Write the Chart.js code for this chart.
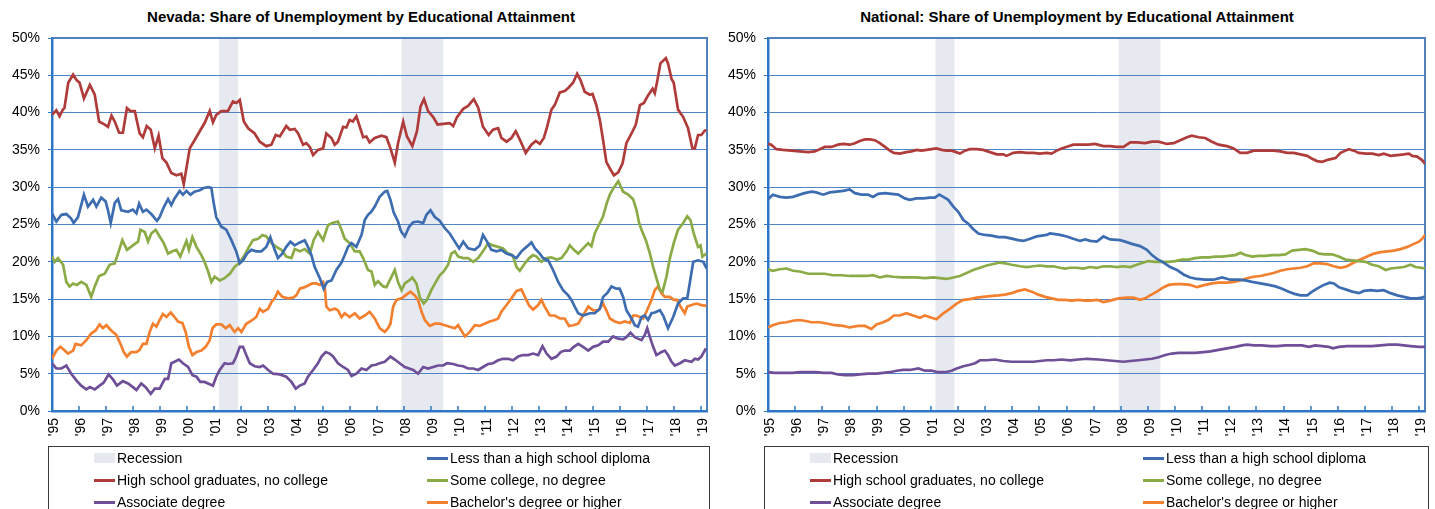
<!DOCTYPE html>
<html><head><meta charset="utf-8">
<script src="https://cdn.jsdelivr.net/npm/chart.js@4.4.1/dist/chart.umd.min.js"></script>
<style>
html,body{margin:0;padding:0;background:#fff;}
body{width:1435px;height:509px;overflow:hidden;position:relative;font-family:"Liberation Sans",Arial,sans-serif;color:#000;}
canvas{position:absolute;top:0;}
.title{position:absolute;top:8px;height:17px;line-height:17px;font-size:15px;font-weight:bold;text-align:center;white-space:nowrap;}
.legend{position:absolute;top:446px;height:80px;border:1px solid #3a3a3a;box-sizing:border-box;}
.item{position:absolute;height:20px;line-height:20px;font-size:14px;white-space:nowrap;}
.sw{position:absolute;}
</style>
</head><body>
<div class="title" style="left:0;width:722px;">Nevada: Share of Unemployment by Educational Attainment</div>
<div class="title" style="left:719px;width:716px;">National: Share of Unemployment by Educational Attainment</div>
<canvas id="nv" width="717" height="509" style="left:0;"></canvas>
<canvas id="us" width="719" height="509" style="left:716px;"></canvas>
<div class="legend" id="legNv" style="left:48px;width:662px;"></div>
<div class="legend" id="legUs" style="left:764px;width:665px;"></div>
<script>
// ---------- labels ----------
const seriesNames = ["Less than a high school diploma","High school graduates, no college","Some college, no degree","Associate degree","Bachelor's degree or higher"];
const recessionLabel = "Recession";
const yearTicks = [1995,1996,1997,1998,1999,2000,2001,2002,2003,2004,2005,2006,2007,2008,2009,2010,2011,2012,2013,2014,2015,2016,2017,2018,2019];
const yearLabels = ["'95","'96","'97","'98","'99","'00","'01","'02","'03","'04","'05","'06","'07","'08","'09","'10","'11","'12","'13","'14","'15","'16","'17","'18","'19"];
const recessions = [[2001.17,2001.87],[2007.92,2009.46]];

// ---------- Nevada ----------
const nvLess = [[1995.00,26.5],[1995.16,25.4],[1995.35,26.3],[1995.53,26.4],[1995.71,25.8],[1995.80,25.2],[1995.96,26.0],[1996.08,27.6],[1996.18,29.0],[1996.33,27.4],[1996.52,28.3],[1996.64,27.4],[1996.82,28.6],[1996.98,28.1],[1997.07,26.9],[1997.17,25.2],[1997.32,27.9],[1997.44,28.4],[1997.56,26.9],[1997.81,26.7],[1997.99,27.0],[1998.12,26.5],[1998.22,27.8],[1998.36,26.7],[1998.49,27.0],[1998.67,26.4],[1998.88,25.5],[1998.98,26.0],[1999.13,27.3],[1999.29,28.4],[1999.41,27.6],[1999.53,28.5],[1999.72,29.5],[1999.84,29.0],[1999.97,29.5],[2000.12,29.0],[2000.27,29.4],[2000.46,29.6],[2000.61,29.9],[2000.77,30.0],[2000.89,29.9],[2000.98,27.8],[2001.07,26.0],[2001.26,24.7],[2001.44,24.3],[2001.63,22.9],[2001.81,21.4],[2001.94,19.8],[2002.06,20.2],[2002.21,21.1],[2002.37,21.6],[2002.55,21.4],[2002.74,21.4],[2002.92,22.0],[2003.07,23.3],[2003.23,21.6],[2003.35,20.5],[2003.51,21.1],[2003.66,22.0],[2003.81,22.7],[2003.97,22.2],[2004.16,22.6],[2004.34,22.9],[2004.46,22.0],[2004.59,20.9],[2004.71,19.3],[2004.90,17.8],[2005.04,16.4],[2005.17,17.3],[2005.33,17.5],[2005.51,18.9],[2005.70,19.9],[2005.82,20.9],[2005.94,22.0],[2006.07,22.5],[2006.25,22.0],[2006.44,23.6],[2006.56,25.6],[2006.68,26.3],[2006.80,26.7],[2006.93,27.4],[2007.11,28.7],[2007.30,29.4],[2007.39,29.5],[2007.51,28.3],[2007.63,26.6],[2007.79,25.4],[2007.88,24.3],[2007.92,24.0],[2008.04,23.4],[2008.20,24.7],[2008.35,25.3],[2008.53,25.4],[2008.72,25.2],[2008.84,26.3],[2008.99,26.9],[2009.15,26.0],[2009.33,25.5],[2009.52,24.5],[2009.70,23.8],[2009.89,22.7],[2010.05,21.8],[2010.20,22.7],[2010.38,21.8],[2010.63,21.6],[2010.81,22.2],[2010.93,23.6],[2011.08,22.7],[2011.24,21.6],[2011.43,21.4],[2011.61,21.6],[2011.80,21.1],[2011.98,20.9],[2012.17,20.5],[2012.35,21.4],[2012.54,22.0],[2012.72,22.6],[2012.85,21.8],[2013.03,21.1],[2013.15,20.5],[2013.34,20.2],[2013.52,18.9],[2013.71,17.3],[2013.89,16.2],[2014.08,15.5],[2014.20,14.9],[2014.32,14.0],[2014.45,13.1],[2014.63,12.8],[2014.88,13.1],[2015.06,13.1],[2015.25,13.7],[2015.37,15.3],[2015.52,15.8],[2015.68,16.7],[2015.86,16.4],[2015.98,16.4],[2016.11,15.3],[2016.23,13.5],[2016.42,12.4],[2016.54,11.5],[2016.66,11.3],[2016.79,12.6],[2016.91,12.8],[2017.03,12.2],[2017.16,13.1],[2017.28,13.2],[2017.47,13.5],[2017.59,12.8],[2017.77,11.1],[2017.96,12.6],[2018.14,14.4],[2018.33,15.1],[2018.48,15.1],[2018.58,17.3],[2018.70,20.0],[2018.88,20.2],[2019.07,20.0],[2019.20,19.1]];
const nvHS = [[1995.00,39.7],[1995.16,40.3],[1995.28,39.5],[1995.40,40.4],[1995.46,40.6],[1995.60,44.0],[1995.78,45.1],[1995.90,44.4],[1996.02,44.0],[1996.18,41.9],[1996.40,43.7],[1996.58,42.4],[1996.74,38.8],[1996.95,38.4],[1997.07,38.1],[1997.20,39.6],[1997.32,38.8],[1997.48,37.3],[1997.62,37.3],[1997.77,40.6],[1997.90,40.2],[1998.06,40.2],[1998.24,37.2],[1998.36,36.7],[1998.50,38.2],[1998.65,37.7],[1998.80,35.2],[1998.94,36.9],[1999.08,33.9],[1999.23,33.3],[1999.41,31.9],[1999.60,31.6],[1999.78,31.8],[1999.87,30.4],[2000.09,35.2],[2000.27,36.3],[2000.46,37.5],[2000.64,38.6],[2000.83,40.2],[2000.95,38.7],[2001.07,39.7],[2001.26,40.2],[2001.50,40.2],[2001.69,41.5],[2001.82,41.3],[2001.94,41.7],[2002.09,38.8],[2002.25,37.9],[2002.49,37.2],[2002.68,36.1],[2002.92,35.5],[2003.11,35.7],[2003.27,37.0],[2003.42,36.8],[2003.66,38.2],[2003.79,37.7],[2003.97,37.8],[2004.10,37.2],[2004.28,35.7],[2004.40,35.9],[2004.53,35.4],[2004.65,34.3],[2004.83,35.0],[2005.02,35.2],[2005.14,37.2],[2005.33,36.6],[2005.45,35.7],[2005.57,36.1],[2005.76,38.1],[2005.88,38.0],[2006.00,39.0],[2006.12,38.8],[2006.25,39.5],[2006.35,38.4],[2006.50,36.7],[2006.62,36.8],[2006.74,36.0],[2006.93,36.6],[2007.18,36.9],[2007.36,36.7],[2007.51,35.2],[2007.67,33.3],[2007.79,35.9],[2007.98,38.8],[2008.12,36.8],[2008.32,35.5],[2008.49,37.5],[2008.62,40.8],[2008.75,41.8],[2008.90,40.2],[2009.09,39.4],[2009.25,38.4],[2009.46,38.5],[2009.70,38.6],[2009.83,38.2],[2009.97,39.4],[2010.20,40.5],[2010.38,40.9],[2010.59,41.8],[2010.75,40.7],[2010.93,38.1],[2011.14,37.0],[2011.30,37.7],[2011.49,37.9],[2011.61,36.6],[2011.80,36.1],[2011.98,36.6],[2012.14,37.5],[2012.29,36.4],[2012.51,34.6],[2012.72,35.7],[2012.88,36.2],[2013.03,35.8],[2013.18,36.6],[2013.30,38.1],[2013.46,40.4],[2013.58,41.0],[2013.77,42.7],[2013.95,42.9],[2014.08,43.3],[2014.26,44.0],[2014.41,45.2],[2014.53,44.4],[2014.69,42.8],[2014.88,42.4],[2014.98,42.5],[2015.12,41.0],[2015.25,39.0],[2015.37,36.3],[2015.49,33.4],[2015.62,32.5],[2015.77,31.6],[2015.93,32.0],[2016.09,33.2],[2016.23,35.9],[2016.42,37.2],[2016.58,38.4],[2016.73,41.0],[2016.88,41.3],[2017.03,42.3],[2017.20,43.2],[2017.28,42.6],[2017.37,44.2],[2017.49,46.6],[2017.69,47.3],[2017.77,46.6],[2017.90,44.5],[2017.98,44.0],[2018.14,40.4],[2018.33,39.4],[2018.51,37.9],[2018.67,35.2],[2018.76,35.2],[2018.88,37.0],[2019.00,37.0],[2019.13,37.6],[2019.20,37.6]];
const nvSome = [[1995.00,20.7],[1995.10,20.0],[1995.22,20.5],[1995.41,19.6],[1995.53,17.3],[1995.65,16.7],[1995.78,17.1],[1995.92,16.9],[1996.08,17.3],[1996.27,16.9],[1996.45,15.3],[1996.58,16.7],[1996.74,18.1],[1996.95,18.4],[1997.13,19.6],[1997.32,19.8],[1997.44,21.1],[1997.60,22.9],[1997.77,21.6],[1997.99,22.2],[1998.18,22.7],[1998.27,24.3],[1998.43,24.0],[1998.55,22.7],[1998.67,23.8],[1998.83,24.3],[1998.98,23.4],[1999.13,22.5],[1999.29,21.1],[1999.45,21.4],[1999.60,21.6],[1999.74,20.7],[1999.97,22.8],[2000.06,21.6],[2000.19,23.3],[2000.34,22.0],[2000.52,20.9],[2000.64,20.0],[2000.77,18.7],[2000.89,17.3],[2001.01,18.0],[2001.20,17.5],[2001.38,17.8],[2001.57,18.4],[2001.75,19.3],[2001.94,19.9],[2002.12,20.9],[2002.28,22.0],[2002.43,22.9],[2002.62,23.1],[2002.78,23.6],[2002.92,23.4],[2003.11,22.5],[2003.29,22.0],[2003.48,21.6],[2003.66,20.7],[2003.85,20.5],[2003.97,21.7],[2004.16,21.4],[2004.34,21.7],[2004.53,21.1],[2004.67,22.9],[2004.83,24.0],[2005.02,22.9],[2005.20,24.9],[2005.36,25.2],[2005.57,25.4],[2005.70,24.3],[2005.82,23.1],[2006.00,22.5],[2006.19,21.4],[2006.37,21.4],[2006.50,20.5],[2006.68,18.9],[2006.81,18.7],[2006.93,16.9],[2007.05,17.4],[2007.24,16.7],[2007.36,16.6],[2007.55,18.0],[2007.67,18.9],[2007.79,17.3],[2007.92,16.2],[2008.04,17.1],[2008.20,17.5],[2008.32,17.9],[2008.47,17.1],[2008.59,15.3],[2008.74,14.4],[2008.86,14.9],[2009.02,16.2],[2009.19,17.3],[2009.33,18.2],[2009.48,18.7],[2009.64,19.6],[2009.76,21.1],[2009.89,21.4],[2010.01,20.7],[2010.20,20.5],[2010.38,20.5],[2010.57,20.0],[2010.75,20.5],[2010.93,21.4],[2011.12,22.5],[2011.30,22.2],[2011.49,22.0],[2011.67,21.8],[2011.86,21.1],[2012.02,20.9],[2012.17,19.3],[2012.29,18.8],[2012.48,19.8],[2012.64,20.5],[2012.78,20.9],[2012.91,20.7],[2013.09,20.0],[2013.28,20.5],[2013.46,20.6],[2013.65,20.3],[2013.83,20.5],[2014.02,21.4],[2014.14,22.2],[2014.29,21.6],[2014.45,21.1],[2014.63,21.8],[2014.82,22.5],[2014.94,22.1],[2015.06,23.8],[2015.25,25.2],[2015.37,26.1],[2015.50,27.8],[2015.62,29.0],[2015.74,29.8],[2015.93,30.8],[2016.11,29.4],[2016.30,29.0],[2016.48,28.4],[2016.60,27.0],[2016.70,25.2],[2016.79,24.3],[2016.95,22.9],[2017.10,21.1],[2017.22,19.3],[2017.34,17.8],[2017.47,16.2],[2017.57,16.0],[2017.71,18.0],[2017.84,20.5],[2017.98,22.5],[2018.14,24.3],[2018.33,25.2],[2018.48,26.1],[2018.60,25.6],[2018.72,23.8],[2018.88,22.0],[2018.97,22.2],[2019.04,20.7],[2019.19,21.1]];
const nvAssoc = [[1995.00,6.4],[1995.16,5.7],[1995.35,5.7],[1995.53,6.1],[1995.71,5.0],[1995.90,4.1],[1996.08,3.4],[1996.27,2.9],[1996.40,3.2],[1996.58,2.9],[1996.76,3.4],[1996.91,3.8],[1997.09,4.9],[1997.26,4.2],[1997.40,3.4],[1997.62,4.0],[1997.81,3.7],[1997.99,3.2],[1998.12,2.8],[1998.30,3.7],[1998.46,3.2],[1998.65,2.3],[1998.80,3.0],[1998.98,3.0],[1999.17,4.3],[1999.29,4.3],[1999.41,6.4],[1999.53,6.6],[1999.69,6.9],[1999.84,6.4],[2000.03,5.9],[2000.19,4.8],[2000.34,4.6],[2000.48,3.9],[2000.64,3.9],[2000.83,3.6],[2000.95,3.4],[2001.07,4.6],[2001.20,5.5],[2001.38,6.4],[2001.50,6.3],[2001.69,6.4],[2001.81,7.3],[2001.94,8.6],[2002.06,8.6],[2002.18,7.5],[2002.31,6.4],[2002.49,6.0],[2002.68,5.9],[2002.80,6.1],[2002.99,5.5],[2003.17,5.0],[2003.42,4.9],[2003.66,4.6],[2003.85,3.9],[2004.01,3.0],[2004.16,3.4],[2004.34,3.7],[2004.46,4.6],[2004.65,5.5],[2004.83,6.4],[2004.96,7.3],[2005.12,7.9],[2005.26,7.7],[2005.39,7.3],[2005.57,6.4],[2005.76,5.9],[2005.94,5.5],[2006.07,4.7],[2006.25,5.0],[2006.44,5.7],[2006.62,5.5],[2006.81,6.1],[2006.97,6.2],[2007.11,6.4],[2007.30,6.6],[2007.42,7.0],[2007.51,7.3],[2007.67,6.9],[2007.85,6.4],[2008.04,5.9],[2008.20,5.7],[2008.35,5.5],[2008.53,5.0],[2008.72,5.9],[2008.90,5.7],[2009.09,5.9],[2009.27,6.1],[2009.46,6.1],[2009.60,6.4],[2009.83,6.3],[2010.01,6.1],[2010.20,6.0],[2010.38,5.7],[2010.57,5.7],[2010.75,5.5],[2010.93,5.9],[2011.12,6.3],[2011.30,6.4],[2011.49,6.8],[2011.67,7.0],[2011.86,7.0],[2012.04,6.8],[2012.23,7.3],[2012.41,7.5],[2012.60,7.5],[2012.78,7.7],[2012.97,7.5],[2013.13,8.7],[2013.28,7.7],[2013.46,7.0],[2013.65,7.3],[2013.80,7.9],[2013.95,8.1],[2014.14,8.1],[2014.29,8.6],[2014.45,9.0],[2014.63,8.6],[2014.82,8.1],[2015.00,8.6],[2015.19,8.8],[2015.37,9.3],[2015.56,9.3],[2015.74,10.0],[2015.93,9.7],[2016.11,9.6],[2016.23,9.9],[2016.38,10.5],[2016.54,9.9],[2016.66,9.7],[2016.79,9.5],[2016.91,10.2],[2017.00,11.1],[2017.10,9.9],[2017.22,8.6],[2017.34,7.5],[2017.53,7.9],[2017.65,8.1],[2017.77,7.5],[2017.90,6.6],[2018.02,6.1],[2018.21,6.4],[2018.39,6.8],[2018.51,6.7],[2018.64,6.6],[2018.76,7.0],[2018.88,6.9],[2019.00,7.3],[2019.17,8.4]];
const nvBach = [[1995.00,7.0],[1995.16,8.1],[1995.31,8.6],[1995.47,8.1],[1995.59,7.7],[1995.78,8.1],[1995.87,9.0],[1996.08,8.8],[1996.27,9.5],[1996.45,10.4],[1996.61,10.8],[1996.76,11.6],[1996.88,11.1],[1997.01,11.5],[1997.19,10.8],[1997.38,10.2],[1997.53,9.0],[1997.65,7.9],[1997.77,7.3],[1997.93,7.9],[1998.12,7.9],[1998.24,8.2],[1998.36,9.0],[1998.49,9.0],[1998.61,10.6],[1998.73,11.7],[1998.86,11.3],[1998.98,12.2],[1999.10,13.0],[1999.23,12.6],[1999.39,13.2],[1999.53,12.6],[1999.66,12.0],[1999.82,11.8],[1999.94,10.6],[2000.06,8.6],[2000.19,7.5],[2000.34,7.9],[2000.52,8.1],[2000.68,8.6],[2000.83,9.5],[2000.93,11.1],[2001.07,11.6],[2001.26,11.6],[2001.42,11.1],[2001.57,11.5],[2001.75,10.6],[2001.88,11.1],[2002.00,10.6],[2002.18,11.7],[2002.37,12.1],[2002.55,12.6],[2002.68,13.7],[2002.80,13.3],[2002.99,13.7],[2003.11,14.6],[2003.23,15.1],[2003.35,16.0],[2003.51,15.3],[2003.72,15.1],[2003.91,15.2],[2004.03,15.5],[2004.16,16.4],[2004.34,16.6],[2004.50,16.9],[2004.62,17.1],[2004.77,17.1],[2004.90,16.9],[2005.02,17.3],[2005.08,16.7],[2005.14,14.0],[2005.26,13.5],[2005.45,13.7],[2005.57,13.5],[2005.70,12.6],[2005.82,13.1],[2006.00,12.6],[2006.19,13.1],[2006.37,12.4],[2006.56,12.8],[2006.74,13.3],[2006.93,12.4],[2007.11,11.1],[2007.30,10.6],[2007.42,11.1],[2007.51,11.7],[2007.61,14.0],[2007.73,14.9],[2007.92,15.1],[2008.10,15.6],[2008.25,16.0],[2008.41,15.5],[2008.53,14.9],[2008.66,13.3],[2008.78,12.2],[2008.96,11.4],[2009.15,11.7],[2009.33,11.7],[2009.52,11.5],[2009.70,11.3],[2009.89,11.1],[2010.01,11.5],[2010.13,10.8],[2010.26,10.0],[2010.44,10.6],[2010.63,11.5],[2010.81,11.4],[2010.99,11.7],[2011.18,12.0],[2011.37,12.2],[2011.49,12.4],[2011.61,13.3],[2011.80,14.2],[2011.98,15.1],[2012.17,16.1],[2012.35,16.3],[2012.48,15.3],[2012.64,14.1],[2012.78,13.6],[2012.97,14.2],[2013.09,14.9],[2013.21,14.0],[2013.40,12.8],[2013.58,12.8],[2013.77,12.4],[2013.95,12.4],[2014.11,11.4],[2014.26,11.5],[2014.45,11.7],[2014.63,12.8],[2014.82,14.0],[2015.00,13.5],[2015.19,13.5],[2015.37,14.4],[2015.49,13.5],[2015.62,12.4],[2015.80,12.0],[2015.99,11.8],[2016.17,12.0],[2016.36,11.8],[2016.48,12.8],[2016.60,12.8],[2016.73,12.6],[2016.85,12.4],[2016.97,13.3],[2017.16,14.9],[2017.28,16.2],[2017.40,16.7],[2017.53,15.8],[2017.65,15.3],[2017.84,15.3],[2017.98,14.9],[2018.10,14.9],[2018.23,14.0],[2018.39,13.1],[2018.48,14.0],[2018.64,14.2],[2018.82,14.4],[2019.00,14.2],[2019.19,14.1]];

// ---------- National ----------
const usLess = [[1995.00,28.4],[1995.18,29.0],[1995.43,28.7],[1995.68,28.6],[1995.92,28.7],[1996.17,29.0],[1996.35,29.2],[1996.60,29.4],[1996.78,29.3],[1997.03,29.0],[1997.28,29.3],[1997.52,29.4],[1997.77,29.5],[1998.01,29.7],[1998.20,29.2],[1998.44,29.0],[1998.69,29.0],[1998.87,28.7],[1999.06,29.1],[1999.31,29.2],[1999.55,29.1],[1999.80,29.0],[2000.04,28.5],[2000.23,28.3],[2000.47,28.5],[2000.72,28.5],[2000.97,28.6],[2001.15,28.6],[2001.31,29.0],[2001.46,28.7],[2001.64,28.3],[2001.83,27.4],[2002.01,26.7],[2002.20,25.6],[2002.38,25.1],[2002.56,24.4],[2002.75,23.8],[2002.99,23.6],[2003.24,23.5],[2003.49,23.3],[2003.73,23.3],[2003.98,23.1],[2004.22,22.9],[2004.41,22.8],[2004.66,23.1],[2004.90,23.4],[2005.09,23.5],[2005.27,23.6],[2005.39,23.8],[2005.58,23.7],[2005.76,23.6],[2006.01,23.4],[2006.25,23.1],[2006.50,22.8],[2006.69,23.0],[2006.87,22.8],[2007.12,22.7],[2007.36,23.4],[2007.61,23.0],[2007.98,22.9],[2008.16,22.7],[2008.41,22.4],[2008.71,22.1],[2008.96,21.6],[2009.15,20.9],[2009.33,20.4],[2009.58,19.9],[2009.82,19.3],[2010.07,18.9],[2010.31,18.3],[2010.56,17.9],[2010.81,17.7],[2011.11,17.6],[2011.42,17.6],[2011.73,17.9],[2012.04,17.6],[2012.34,17.6],[2012.59,17.5],[2012.84,17.3],[2013.14,17.1],[2013.45,16.9],[2013.70,16.7],[2013.94,16.4],[2014.19,16.0],[2014.40,15.7],[2014.62,15.5],[2014.87,15.5],[2015.05,16.0],[2015.23,16.4],[2015.48,16.9],[2015.70,17.2],[2015.85,17.1],[2016.03,16.6],[2016.28,16.3],[2016.53,16.0],[2016.77,15.8],[2016.96,16.1],[2017.20,16.2],[2017.45,16.1],[2017.69,16.2],[2017.94,15.8],[2018.19,15.5],[2018.43,15.3],[2018.68,15.1],[2018.92,15.1],[2019.11,15.2],[2019.22,15.4]];
const usHS = [[1995.00,35.8],[1995.12,35.7],[1995.31,35.1],[1995.55,35.0],[1995.86,34.9],[1996.17,34.8],[1996.48,34.7],[1996.72,34.8],[1996.91,35.1],[1997.09,35.4],[1997.34,35.4],[1997.58,35.7],[1997.77,35.8],[1998.01,35.7],[1998.20,35.9],[1998.38,36.2],[1998.57,36.4],[1998.75,36.4],[1998.94,36.3],[1999.12,35.9],[1999.31,35.4],[1999.49,34.9],[1999.64,34.6],[1999.86,34.5],[2000.10,34.7],[2000.29,34.8],[2000.47,35.0],[2000.66,34.9],[2000.84,35.0],[2001.03,35.1],[2001.21,35.2],[2001.40,35.0],[2001.58,34.9],[2001.77,34.9],[2001.93,34.7],[2002.07,34.5],[2002.26,34.9],[2002.44,35.1],[2002.69,35.1],[2002.93,35.0],[2003.18,34.7],[2003.43,34.4],[2003.67,34.4],[2003.79,34.2],[2004.04,34.6],[2004.29,34.7],[2004.53,34.6],[2004.78,34.6],[2005.02,34.5],[2005.27,34.6],[2005.45,34.5],[2005.64,34.9],[2005.82,35.2],[2006.07,35.5],[2006.25,35.7],[2006.44,35.7],[2006.62,35.7],[2006.81,35.7],[2007.05,35.8],[2007.36,35.5],[2007.61,35.5],[2007.85,35.4],[2008.10,35.4],[2008.35,36.0],[2008.59,36.0],[2008.90,35.9],[2009.15,36.1],[2009.39,36.1],[2009.70,35.8],[2009.95,35.9],[2010.19,36.3],[2010.44,36.7],[2010.62,36.9],[2010.87,36.7],[2011.11,36.6],[2011.36,36.1],[2011.60,35.7],[2011.91,35.5],[2012.16,35.2],[2012.40,34.6],[2012.65,34.6],[2012.90,34.9],[2013.14,34.9],[2013.39,34.9],[2013.63,34.9],[2013.88,34.8],[2014.13,34.6],[2014.37,34.6],[2014.62,34.4],[2014.87,34.2],[2015.05,33.8],[2015.23,33.5],[2015.42,33.4],[2015.66,33.7],[2015.91,33.9],[2016.10,34.6],[2016.28,34.9],[2016.40,35.1],[2016.59,34.9],[2016.77,34.6],[2017.02,34.5],[2017.26,34.5],[2017.51,34.3],[2017.69,34.5],[2017.94,34.2],[2018.19,34.3],[2018.43,34.4],[2018.62,34.5],[2018.74,34.2],[2018.92,34.1],[2019.11,33.6],[2019.22,33.1]];
const usSome = [[1995.00,19.0],[1995.18,18.8],[1995.43,19.0],[1995.68,19.1],[1995.92,18.8],[1996.17,18.7],[1996.48,18.4],[1996.78,18.4],[1997.09,18.4],[1997.40,18.2],[1997.71,18.2],[1998.01,18.1],[1998.32,18.1],[1998.63,18.1],[1998.87,18.2],[1999.12,17.9],[1999.37,18.1],[1999.61,18.0],[1999.92,17.9],[2000.23,17.9],[2000.47,17.9],[2000.78,17.8],[2001.09,17.9],[2001.33,17.8],[2001.58,17.7],[2001.83,17.9],[2002.07,18.1],[2002.32,18.5],[2002.56,18.9],[2002.81,19.2],[2003.06,19.5],[2003.30,19.7],[2003.55,19.9],[2003.73,19.8],[2003.98,19.6],[2004.29,19.4],[2004.53,19.3],[2004.78,19.4],[2005.02,19.5],[2005.27,19.4],[2005.52,19.4],[2005.76,19.2],[2005.95,19.1],[2006.13,19.2],[2006.38,19.2],[2006.62,19.1],[2006.85,19.3],[2007.12,19.2],[2007.36,19.4],[2007.61,19.4],[2007.85,19.3],[2008.10,19.4],[2008.35,19.3],[2008.59,19.6],[2008.84,19.9],[2009.02,20.1],[2009.27,20.0],[2009.51,20.0],[2009.76,20.0],[2010.01,20.1],[2010.25,20.3],[2010.50,20.3],[2010.74,20.5],[2010.99,20.6],[2011.24,20.6],[2011.48,20.7],[2011.73,20.7],[2011.97,20.8],[2012.22,20.9],[2012.41,21.2],[2012.59,20.9],[2012.84,20.7],[2013.08,20.8],[2013.33,20.8],[2013.57,20.9],[2013.82,20.9],[2014.07,21.0],[2014.31,21.5],[2014.56,21.6],[2014.80,21.7],[2015.05,21.5],[2015.30,21.1],[2015.54,21.0],[2015.79,21.0],[2016.03,20.7],[2016.28,20.3],[2016.53,20.2],[2016.77,20.1],[2017.02,20.0],[2017.26,19.6],[2017.51,19.4],[2017.76,18.9],[2017.94,19.1],[2018.19,19.2],[2018.43,19.3],[2018.68,19.6],[2018.86,19.3],[2019.05,19.2],[2019.22,19.1]];
const usAssoc = [[1995.00,5.2],[1995.25,5.1],[1995.55,5.1],[1995.92,5.1],[1996.17,5.2],[1996.48,5.2],[1996.78,5.2],[1997.03,5.1],[1997.34,5.1],[1997.58,4.9],[1997.83,4.8],[1998.14,4.8],[1998.38,4.9],[1998.69,5.0],[1999.00,5.0],[1999.24,5.1],[1999.49,5.2],[1999.74,5.4],[1999.98,5.5],[2000.23,5.5],[2000.54,5.7],[2000.78,5.4],[2001.03,5.4],[2001.27,5.2],[2001.52,5.2],[2001.77,5.4],[2001.95,5.7],[2002.20,6.0],[2002.44,6.2],[2002.63,6.4],[2002.81,6.8],[2003.06,6.8],[2003.36,6.9],[2003.67,6.7],[2003.98,6.6],[2004.29,6.6],[2004.53,6.6],[2004.78,6.6],[2005.02,6.7],[2005.27,6.8],[2005.52,6.8],[2005.82,6.9],[2006.13,6.8],[2006.44,6.9],[2006.75,7.0],[2007.18,6.9],[2007.48,6.8],[2007.79,6.7],[2008.10,6.6],[2008.35,6.7],[2008.65,6.8],[2008.90,6.9],[2009.15,7.0],[2009.39,7.2],[2009.64,7.5],[2009.88,7.7],[2010.13,7.8],[2010.44,7.8],[2010.74,7.8],[2011.05,7.9],[2011.30,8.0],[2011.60,8.2],[2011.91,8.4],[2012.22,8.6],[2012.47,8.8],[2012.65,8.9],[2012.90,8.8],[2013.20,8.8],[2013.51,8.7],[2013.76,8.7],[2014.07,8.8],[2014.37,8.8],[2014.68,8.8],[2014.93,8.6],[2015.17,8.8],[2015.42,8.7],[2015.66,8.6],[2015.82,8.4],[2016.03,8.6],[2016.34,8.7],[2016.65,8.7],[2016.96,8.7],[2017.26,8.7],[2017.57,8.8],[2017.88,8.9],[2018.19,8.9],[2018.43,8.8],[2018.68,8.7],[2018.99,8.6],[2019.22,8.6]];
const usBach = [[1995.00,11.2],[1995.18,11.5],[1995.43,11.8],[1995.68,11.9],[1995.92,12.1],[1996.11,12.2],[1996.35,12.1],[1996.60,11.9],[1996.91,11.9],[1997.21,11.7],[1997.46,11.5],[1997.77,11.4],[1998.01,11.2],[1998.32,11.4],[1998.57,11.4],[1998.81,11.0],[1999.00,11.6],[1999.24,11.9],[1999.43,12.2],[1999.64,12.8],[1999.86,12.8],[2000.10,13.1],[2000.35,12.8],[2000.60,12.5],[2000.78,12.8],[2001.03,12.5],[2001.21,12.3],[2001.46,13.1],[2001.70,13.7],[2001.95,14.4],[2002.20,14.9],[2002.44,15.0],[2002.69,15.2],[2002.93,15.3],[2003.18,15.4],[2003.49,15.5],[2003.73,15.6],[2003.98,15.8],[2004.22,16.1],[2004.47,16.3],[2004.72,16.0],[2004.96,15.6],[2005.21,15.3],[2005.45,15.1],[2005.70,14.9],[2005.95,14.9],[2006.19,14.8],[2006.44,14.9],[2006.69,14.8],[2006.87,14.8],[2007.12,14.9],[2007.36,14.6],[2007.61,14.8],[2007.92,15.1],[2008.22,15.2],[2008.47,15.2],[2008.71,14.9],[2008.90,15.1],[2009.08,15.5],[2009.33,16.0],[2009.58,16.6],[2009.76,16.9],[2010.01,17.0],[2010.25,17.0],[2010.56,16.9],[2010.81,16.6],[2011.11,16.9],[2011.36,17.1],[2011.60,17.2],[2011.91,17.2],[2012.16,17.3],[2012.40,17.5],[2012.65,17.8],[2012.90,18.0],[2013.14,18.1],[2013.39,18.3],[2013.63,18.5],[2013.88,18.8],[2014.13,19.0],[2014.37,19.1],[2014.62,19.2],[2014.87,19.4],[2015.11,19.8],[2015.36,19.8],[2015.60,19.7],[2015.85,19.4],[2016.10,19.2],[2016.34,19.4],[2016.59,19.9],[2016.83,20.3],[2017.08,20.7],[2017.33,21.1],[2017.57,21.3],[2017.82,21.4],[2018.06,21.5],[2018.31,21.7],[2018.56,22.0],[2018.80,22.4],[2018.99,22.7],[2019.11,23.1],[2019.22,23.6]];

// ---------- styles ----------
const COLORS = ['#3d6db0','#b03b3b','#8bab46','#6f4f97','#f2802f'];
const REC_COLOR = '#e6e9f0';
const GRID_COLOR = '#5084c4';
const AXIS_COLOR = '#2f76c9';
const FONT = {family:'"Liberation Sans", Arial, sans-serif', size:14};

const deco = {
  id:'deco',
  beforeDraw(chart){
    const {ctx, chartArea:a, scales:{x}} = chart;
    ctx.save();
    ctx.fillStyle = REC_COLOR;
    recessions.forEach(([s,e])=>{
      const x1 = x.getPixelForValue(s), x2 = x.getPixelForValue(e);
      ctx.fillRect(x1, a.top, x2-x1, a.bottom-a.top);
    });
    ctx.restore();
  },
  beforeDatasetsDraw(chart){
    const {ctx, chartArea:a, scales:{x}} = chart;
    ctx.save();
    ctx.strokeStyle = AXIS_COLOR; ctx.lineWidth = 1.5;
    ctx.beginPath();
    yearTicks.forEach(v=>{
      const px = Math.round(x.getPixelForValue(v));
      ctx.moveTo(px, a.bottom); ctx.lineTo(px, a.bottom-5);
    });
    ctx.stroke();
    ctx.strokeStyle = '#4f81bd'; ctx.lineWidth = 2;
    ctx.beginPath();
    ctx.moveTo(a.left, a.top); ctx.lineTo(a.right, a.top); ctx.lineTo(a.right, a.bottom);
    ctx.stroke();
    ctx.restore();
  }
};

function makeChart(id, seriesList){
  return new Chart(document.getElementById(id), {
    type:'line',
    data:{datasets: seriesList.map((s,i)=>({
      label: seriesNames[i],
      data: s.map(p=>({x:p[0], y:p[1]})),
      borderColor: COLORS[i], borderWidth: 2.7, pointRadius: 0, tension: 0, fill: false
    }))},
    options:{
      responsive:false, animation:false, events:[],
      layout:{padding:{left:0, right:10, top:38, bottom:58}},
      plugins:{legend:{display:false}, title:{display:false}, tooltip:{enabled:false}},
      scales:{
        x:{type:'linear', min:1995, max:2019.21,
           afterBuildTicks: sc=>{ sc.ticks = yearTicks.map(v=>({value:v})); },
           ticks:{autoSkip:false, maxRotation:90, minRotation:90, padding:7, labelOffset:2, font:FONT, color:'#000',
                  callback:(v)=>yearLabels[yearTicks.indexOf(v)]},
           grid:{display:true, drawOnChartArea:false, drawTicks:false},
           border:{display:true, color:AXIS_COLOR, width:2.5},
           afterFit: sc=>{ sc.height = 40; sc.paddingLeft = 0; sc.paddingRight = 0; }},
        y:{min:0, max:50,
           ticks:{stepSize:5, padding:8, font:FONT, color:'#000', callback:v=>v+'%'},
           grid:{color:GRID_COLOR, lineWidth:1, tickLength:4, tickColor:AXIS_COLOR},
           border:{display:true, color:AXIS_COLOR, width:2.5},
           afterFit: sc=>{ sc.width = 52; sc.paddingTop = 0; sc.paddingBottom = 0; }}
      }
    },
    plugins:[deco]
  });
}

makeChart('nv', [nvLess, nvHS, nvSome, nvAssoc, nvBach]);
makeChart('us', [usLess, usHS, usSome, usAssoc, usBach]);

// ---------- legends (HTML) ----------
function buildLegend(el){
  const rows = [
    [{type:'box', text:recessionLabel}, {type:'line', c:0, text:seriesNames[0]}],
    [{type:'line', c:1, text:seriesNames[1]}, {type:'line', c:2, text:seriesNames[2]}],
    [{type:'line', c:3, text:seriesNames[3]}, {type:'line', c:4, text:seriesNames[4]}]
  ];
  const colX = [45, 378];
  rows.forEach((r,ri)=>{
    r.forEach((it,ci)=>{
      const d = document.createElement('div');
      d.className = 'item';
      d.style.left = colX[ci]+'px';
      d.style.top = (1 + ri*22)+'px';
      const sw = document.createElement('span');
      sw.className = 'sw';
      if(it.type==='box'){
        sw.style.cssText = 'left:0;top:5px;width:21px;height:10px;background:'+REC_COLOR+';';
      } else {
        sw.style.cssText = 'left:0;top:9px;width:21px;height:3px;background:'+COLORS[it.c]+';';
      }
      d.appendChild(sw);
      const t = document.createElement('span');
      t.style.cssText = 'position:absolute;left:23px;top:0;';
      t.textContent = it.text;
      d.appendChild(t);
      el.appendChild(d);
    });
  });
}
buildLegend(document.getElementById('legNv'));
buildLegend(document.getElementById('legUs'));
</script>
</body></html>
